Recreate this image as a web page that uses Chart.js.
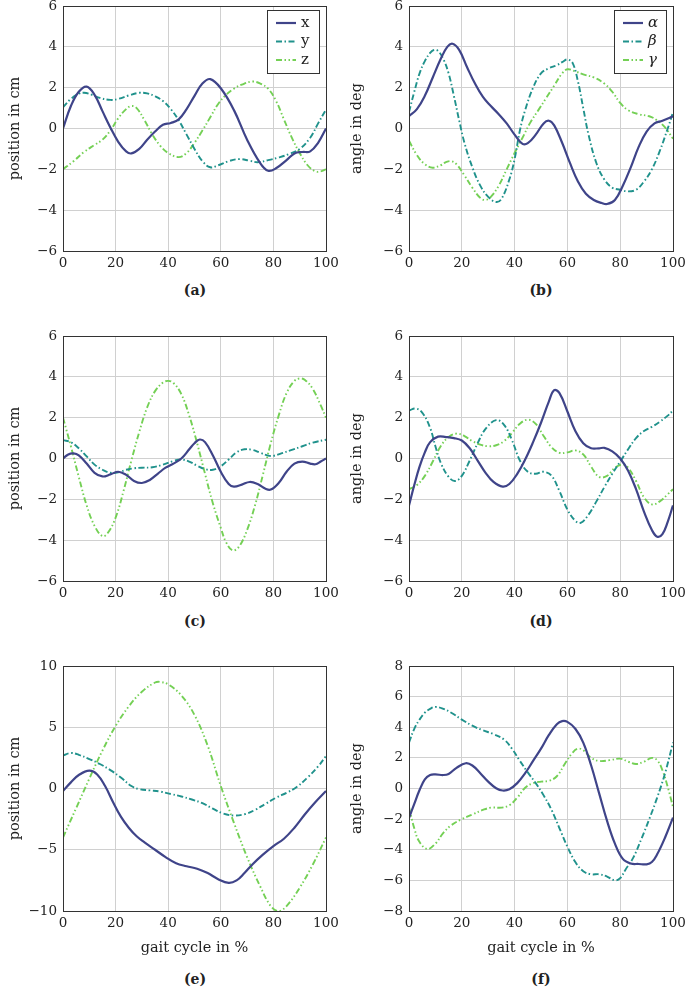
<!DOCTYPE html>
<html>
<head>
<meta charset="utf-8">
<script src="https://cdn.jsdelivr.net/npm/chart.js@4.4.1/dist/chart.umd.min.js"></script>
<style>
body { margin:0; background:#fff; width:685px; height:989px; overflow:hidden; position:relative; }
canvas { position:absolute; }
.cap { position:absolute; width:80px; height:18px; line-height:18px; text-align:center;
       font-family:"DejaVu Serif",serif; font-weight:bold; font-size:14px; color:#222; }
</style>
</head>
<body>
<canvas id="pa" width="340" height="270" style="left:0px;top:0px"></canvas>
<canvas id="pb" width="345" height="270" style="left:340px;top:0px"></canvas>
<canvas id="pc" width="340" height="270" style="left:0px;top:330px"></canvas>
<canvas id="pd" width="345" height="270" style="left:340px;top:330px"></canvas>
<canvas id="pe" width="340" height="300" style="left:0px;top:660px"></canvas>
<canvas id="pf" width="345" height="300" style="left:340px;top:660px"></canvas>
<div class="cap" style="left:155px;top:281px">(a)</div>
<div class="cap" style="left:501px;top:281px">(b)</div>
<div class="cap" style="left:155px;top:612px">(c)</div>
<div class="cap" style="left:501px;top:612px">(d)</div>
<div class="cap" style="left:155px;top:970px">(e)</div>
<div class="cap" style="left:501px;top:970px">(f)</div>
<script>
// series data, [gait cycle %, value]
var posA_x = [[0,0],[3,1.1],[6,1.8],[9,2.05],[12,1.65],[15,0.85],[18,0.05],[21,-0.65],[24,-1.12],[26,-1.22],[29,-1.0],[32,-0.55],[35,-0.15],[38,0.18],[41,0.27],[44,0.45],[47,0.95],[50,1.6],[53,2.2],[56,2.42],[60,1.97],[65,0.9],[70,-0.55],[75,-1.7],[78,-2.07],[81,-1.95],[85,-1.55],[88,-1.22],[91,-1.15],[94,-1.12],[97,-0.7],[100,0]];
var posA_y = [[0,1.04],[3,1.45],[6,1.7],[8,1.75],[11,1.65],[14,1.5],[18,1.4],[21,1.45],[25,1.62],[29,1.75],[32,1.72],[35,1.58],[38,1.35],[41,0.95],[44,0.4],[47,-0.3],[50,-1.0],[53,-1.6],[56,-1.9],[59,-1.8],[63,-1.6],[67,-1.5],[71,-1.58],[74,-1.65],[78,-1.55],[82,-1.42],[86,-1.25],[90,-1.0],[94,-0.45],[97,0.25],[100,0.92]];
var posA_z = [[0,-2],[4,-1.6],[8,-1.15],[12,-0.8],[15,-0.55],[18,-0.1],[21,0.5],[24,0.95],[26,1.1],[28,1.0],[31,0.4],[34,-0.3],[37,-0.85],[40,-1.2],[44,-1.4],[47,-1.2],[50,-0.7],[53,-0.1],[56,0.55],[59,1.2],[62,1.65],[65,1.95],[68,2.15],[72,2.3],[75,2.2],[78,1.95],[81,1.35],[84,0.45],[87,-0.45],[90,-1.2],[93,-1.8],[96,-2.1],[98,-2.1],[100,-2.0]];

var angB_alpha = [[0,0.6],[3,0.95],[6,1.6],[9,2.5],[12,3.4],[14.5,4.0],[16.5,4.15],[19,3.85],[22,3.0],[25,2.2],[28,1.55],[31,1.1],[34,0.7],[37,0.25],[40,-0.3],[43,-0.75],[45,-0.72],[48,-0.3],[51,0.25],[53,0.38],[55,0.15],[58,-0.7],[61,-1.7],[64,-2.6],[67,-3.2],[70,-3.5],[73,-3.65],[75,-3.7],[78,-3.5],[81,-2.8],[84,-1.9],[87,-0.9],[90,-0.15],[93,0.25],[96,0.38],[100,0.6]];
var angB_beta = [[0,0.8],[2,1.8],[4,2.7],[6,3.3],[8,3.7],[9.5,3.85],[11,3.8],[13,3.4],[15,2.7],[17,1.6],[19,0.4],[21,-0.7],[24,-1.9],[27,-2.8],[30,-3.35],[33,-3.6],[35,-3.45],[38,-2.5],[40,-1.5],[42,-0.1],[44,0.9],[47,2.0],[50,2.7],[53,2.95],[56,3.1],[58,3.25],[60,3.38],[62,3.2],[64,2.3],[66,1.0],[68,-0.3],[71,-1.7],[74,-2.5],[77,-2.9],[80,-3.0],[83,-3.08],[86,-3.0],[89,-2.6],[92,-2.0],[95,-1.1],[98,0.0],[100,0.8]];
var angB_gamma = [[0,-0.6],[3,-1.3],[6,-1.75],[9,-1.92],[12,-1.8],[14,-1.65],[16,-1.6],[18,-1.75],[21,-2.3],[24,-2.9],[27,-3.4],[29,-3.5],[31,-3.35],[34,-2.8],[37,-2.0],[40,-1.2],[43,-0.45],[46,0.3],[49,0.9],[52,1.5],[55,2.1],[58,2.7],[60,2.9],[63,2.8],[66,2.65],[70,2.5],[74,2.2],[77,1.8],[80,1.25],[83,0.9],[87,0.7],[91,0.6],[94,0.4],[97,0.05],[100,-0.5]];

var posC_x = [[0,0],[2,0.2],[4,0.25],[6,0.15],[9,-0.25],[12,-0.7],[15,-0.88],[18,-0.78],[21,-0.65],[24,-0.8],[27,-1.1],[30,-1.2],[33,-1.05],[36,-0.75],[39,-0.45],[42,-0.25],[45,0.0],[48,0.45],[50,0.75],[52,0.93],[54,0.8],[57,0.15],[60,-0.65],[63,-1.25],[65,-1.38],[68,-1.28],[71,-1.15],[74,-1.25],[77,-1.48],[79,-1.52],[82,-1.2],[85,-0.65],[88,-0.25],[91,-0.15],[94,-0.25],[96,-0.28],[98,-0.15],[100,0]];
var posC_y = [[0,0.9],[3,0.8],[6,0.5],[9,0.1],[12,-0.3],[15,-0.55],[18,-0.7],[21,-0.68],[24,-0.55],[27,-0.48],[30,-0.45],[34,-0.43],[38,-0.3],[42,-0.12],[45,-0.05],[48,-0.15],[51,-0.35],[54,-0.52],[57,-0.55],[60,-0.38],[63,-0.05],[66,0.3],[69,0.45],[72,0.42],[75,0.28],[78,0.14],[80,0.13],[83,0.25],[87,0.42],[91,0.6],[95,0.78],[100,0.92]];
var posC_z = [[0,2.0],[3,0.6],[6,-0.9],[9,-2.3],[12,-3.3],[15,-3.8],[17,-3.65],[20,-2.9],[23,-1.6],[26,-0.1],[29,1.3],[32,2.5],[35,3.3],[38,3.72],[40,3.8],[42,3.7],[45,3.15],[48,2.1],[51,0.75],[54,-0.75],[57,-2.2],[60,-3.4],[62,-4.1],[64.5,-4.5],[67,-4.3],[70,-3.5],[73,-2.3],[76,-0.8],[79,0.75],[82,2.1],[85,3.2],[88,3.8],[90,3.92],[92,3.85],[95,3.4],[98,2.6],[100,2.0]];

var angD_alpha = [[0,-2.3],[2,-1.3],[4,-0.4],[6,0.3],[8,0.8],[11,1.07],[14,1.05],[17,1.0],[20,0.88],[23,0.5],[26,-0.1],[29,-0.7],[32,-1.15],[35.5,-1.38],[38,-1.25],[41,-0.75],[44,-0.05],[47,0.8],[50,1.75],[53,2.8],[55,3.35],[57,3.2],[60,2.3],[63,1.35],[66,0.75],[69,0.5],[72,0.5],[74,0.52],[77,0.35],[80,0.0],[83,-0.6],[86,-1.5],[89,-2.6],[92,-3.5],[94,-3.83],[96,-3.7],[98,-3.1],[100,-2.3]];
var angD_beta = [[0,2.35],[2.5,2.45],[5,2.25],[8,1.5],[10,0.6],[12,-0.2],[15,-0.9],[17.5,-1.1],[20,-0.85],[23,-0.1],[26,0.75],[29,1.45],[33,1.88],[36,1.65],[39,0.9],[42,-0.1],[45,-0.65],[48,-0.75],[51,-0.65],[54,-0.85],[57,-1.6],[60,-2.5],[63,-3.05],[65,-3.15],[68,-2.75],[71,-2.1],[74,-1.4],[77,-0.75],[80,-0.15],[83,0.45],[86,1.0],[89,1.35],[92,1.55],[95,1.8],[98,2.1],[100,2.35]];
var angD_gamma = [[0,-1.5],[3,-1.3],[6,-0.85],[9,-0.15],[12,0.6],[15,1.05],[18,1.22],[21,1.1],[24,0.85],[27,0.68],[30,0.6],[33,0.65],[36,0.85],[39,1.25],[42,1.7],[45,1.9],[48,1.7],[51,1.1],[54,0.55],[57,0.28],[60,0.3],[63,0.4],[66,0.2],[69,-0.4],[72,-0.9],[75,-0.85],[78,-0.45],[81,-0.3],[83,-0.45],[86,-1.1],[89,-1.9],[92,-2.25],[95,-2.1],[98,-1.75],[100,-1.5]];

var posE_x = [[0,-0.2],[3,0.5],[6,1.1],[10,1.46],[13,1.15],[16,0.2],[19,-1.1],[22,-2.3],[25,-3.2],[28,-3.9],[31,-4.4],[35,-5.0],[39,-5.6],[43,-6.1],[47,-6.35],[51,-6.55],[55,-6.9],[59,-7.4],[63,-7.7],[66,-7.5],[69,-6.9],[72,-6.2],[76,-5.4],[80,-4.7],[84,-4.1],[88,-3.2],[92,-2.1],[96,-1.1],[100,-0.2]];
var posE_y = [[0,2.7],[3,2.9],[6,2.75],[10,2.4],[14,2.0],[18,1.5],[22,0.9],[26,0.2],[29,-0.05],[33,-0.15],[37,-0.25],[41,-0.45],[45,-0.65],[49,-0.9],[53,-1.2],[57,-1.65],[61,-2.05],[65,-2.2],[69,-2.1],[73,-1.75],[77,-1.25],[81,-0.75],[85,-0.35],[89,0.15],[93,0.9],[97,1.8],[100,2.65]];
var posE_z = [[0,-4.0],[5,-1.6],[10,0.8],[15,3.1],[20,5.1],[25,6.7],[30,7.9],[35,8.65],[37,8.7],[40,8.5],[45,7.6],[50,6.0],[55,3.5],[60,0.2],[65,-2.8],[70,-5.6],[75,-8.0],[79,-9.6],[82,-10.0],[85,-9.6],[90,-8.1],[95,-6.2],[100,-4.0]];

var angF_alpha = [[0,-1.93],[2,-1.0],[4,-0.1],[6,0.6],[8,0.88],[10,0.92],[13,0.88],[15,0.95],[18,1.35],[21.5,1.65],[24,1.5],[27,1.0],[30,0.45],[33,0.02],[35.5,-0.13],[38,-0.05],[41,0.35],[44,1.0],[47,1.8],[50,2.6],[53,3.5],[56,4.2],[58,4.4],[60,4.35],[63,3.9],[66,3.0],[69,1.5],[72,-0.3],[75,-2.1],[78,-3.6],[81,-4.6],[84,-4.9],[87,-4.93],[90,-4.95],[92,-4.8],[94,-4.3],[97,-3.2],[100,-1.9]];
var angF_beta = [[0,3.0],[2,3.9],[4,4.5],[6,4.95],[8,5.2],[10,5.33],[13,5.2],[16,4.95],[20,4.5],[24,4.1],[28,3.8],[32,3.55],[36,3.2],[39,2.6],[42,1.8],[45,1.05],[48,0.35],[51,-0.45],[54,-1.4],[57,-2.6],[60,-3.8],[63,-4.8],[66,-5.4],[69,-5.6],[72,-5.6],[75,-5.75],[78,-6.0],[80,-5.85],[82,-5.3],[85,-4.5],[88,-3.3],[91,-2.0],[94,-0.6],[97,1.0],[100,3.0]];
var angF_gamma = [[0,-1.2],[2,-2.6],[4,-3.5],[7,-3.95],[10,-3.6],[13,-2.9],[16,-2.4],[20,-2.0],[24,-1.7],[28,-1.4],[31,-1.25],[35,-1.25],[38,-1.1],[41,-0.6],[44,0.05],[47,0.35],[50,0.45],[53,0.5],[56,0.8],[59,1.6],[62,2.35],[64,2.6],[66,2.5],[69,2.0],[72,1.8],[76,1.85],[80,1.95],[83,1.75],[86,1.6],[89,1.75],[92,2.0],[94,1.85],[96,1.2],[98,0.1],[100,-1.2]];

var posNames = ['x', 'y', 'z'];
var angNames = ['α', 'β', 'γ'];

var colors = ['#3f4489', '#20928c', '#74d055'];
var dashes = [[], [6, 2.5, 1.5, 2.5], [6, 2.5, 1.5, 2.5, 1.5, 2.5]];
var widths = [2.2, 1.9, 1.9];
var serif = '"DejaVu Serif", serif';

function minus(v) { return String(v).replace('-', '\u2212'); }

// draws the closed axis box and, if asked, the legend inside the plot
function framePlugin(legendNames, italic)
{
    return {
        id: 'frame',
        afterDraw: function(chart)
        {
            var a = chart.chartArea, ctx = chart.ctx;
            ctx.save();
            ctx.strokeStyle = '#333';
            ctx.lineWidth = 1;
            ctx.strokeRect(Math.round(a.left) + 0.5, Math.round(a.top) + 0.5,
                           Math.round(a.right - a.left), Math.round(a.bottom - a.top));
            if (legendNames)
            {
                var bw = 52, bh = 63;
                var bx = Math.round(a.right) - 7 - bw, by = Math.round(a.top) + 4;
                ctx.fillStyle = '#fff';
                ctx.fillRect(bx, by, bw, bh);
                ctx.strokeRect(bx + 0.5, by + 0.5, bw, bh);
                for (var i = 0; i < 3; i++)
                {
                    var ly = by + 13 + i * 18.5;
                    ctx.beginPath();
                    ctx.setLineDash(dashes[i]);
                    ctx.strokeStyle = colors[i];
                    ctx.lineWidth = widths[i];
                    ctx.moveTo(bx + 9, ly);
                    ctx.lineTo(bx + 29, ly);
                    ctx.stroke();
                    ctx.setLineDash([]);
                    ctx.fillStyle = '#222';
                    ctx.font = (italic ? 'italic ' : '') + '15px ' + serif;
                    ctx.textBaseline = 'middle';
                    ctx.textAlign = 'left';
                    ctx.fillText(legendNames[i], bx + 34, ly);
                }
            }
            ctx.restore();
        }
    };
}

function makePanel(id, series, yMin, yMax, yStep, yTitle, xTitle, axisW, padRight, legendNames, italic)
{
    var canvas = document.getElementById(id);
    var xH = canvas.height - 6 - 245;
    var ds = [];
    for (var i = 0; i < series.length; i++)
    {
        ds.push({
            data: series[i],
            borderColor: colors[i],
            borderWidth: widths[i],
            borderDash: dashes[i],
            borderCapStyle: 'butt',
            pointRadius: 0,
            tension: 0.4,
            fill: false
        });
    }
    return new Chart(canvas.getContext('2d'), {
        type: 'line',
        data: { datasets: ds },
        options: {
            responsive: false,
            animation: false,
            devicePixelRatio: 1,
            events: [],
            layout: { padding: { left: 0, top: 6, right: padRight, bottom: 0 } },
            plugins: { legend: { display: false }, tooltip: { enabled: false } },
            scales: {
                x: {
                    type: 'linear', min: 0, max: 100,
                    border: { display: false },
                    grid: { color: '#d0d0d0', drawTicks: false },
                    ticks: { stepSize: 20, padding: 4, color: '#222', font: { family: serif, size: 13.5 } },
                    title: { display: !!xTitle, text: xTitle || '', color: '#222',
                             font: { family: serif, size: 14.5 }, padding: { top: 0, bottom: 3 } },
                    afterFit: function(s) { s.height = xH; s.paddingLeft = 0; s.paddingRight = 0; }
                },
                y: {
                    min: yMin, max: yMax,
                    border: { display: false },
                    grid: { color: '#d0d0d0', drawTicks: false },
                    ticks: { stepSize: yStep, padding: 6, color: '#222', font: { family: serif, size: 13.5 },
                             callback: function(v) { return minus(v); } },
                    title: { display: true, text: yTitle, color: '#222',
                             font: { family: serif, size: 14.5 }, padding: { top: axisW > 65 ? 9 : 7, bottom: 0 } },
                    afterFit: function(s) { s.width = axisW; s.paddingTop = 0; s.paddingBottom = 0; }
                }
            }
        },
        plugins: [framePlugin(legendNames, italic)]
    });
}

// Panel (a) to (f)
makePanel('pa', [posA_x, posA_y, posA_z], -6, 6, 2, 'position in cm', null, 63, 14, posNames, false);
makePanel('pb', [angB_alpha, angB_beta, angB_gamma], -6, 6, 2, 'angle in deg', null, 69, 12, angNames, true);
makePanel('pc', [posC_x, posC_y, posC_z], -6, 6, 2, 'position in cm', null, 63, 14, null, false);
makePanel('pd', [angD_alpha, angD_beta, angD_gamma], -6, 6, 2, 'angle in deg', null, 69, 12, null, false);
makePanel('pe', [posE_x, posE_y, posE_z], -10, 10, 5, 'position in cm', 'gait cycle in %', 63, 14, null, false);
makePanel('pf', [angF_alpha, angF_beta, angF_gamma], -8, 8, 2, 'angle in deg', 'gait cycle in %', 69, 12, null, false);
</script>
</body>
</html>
